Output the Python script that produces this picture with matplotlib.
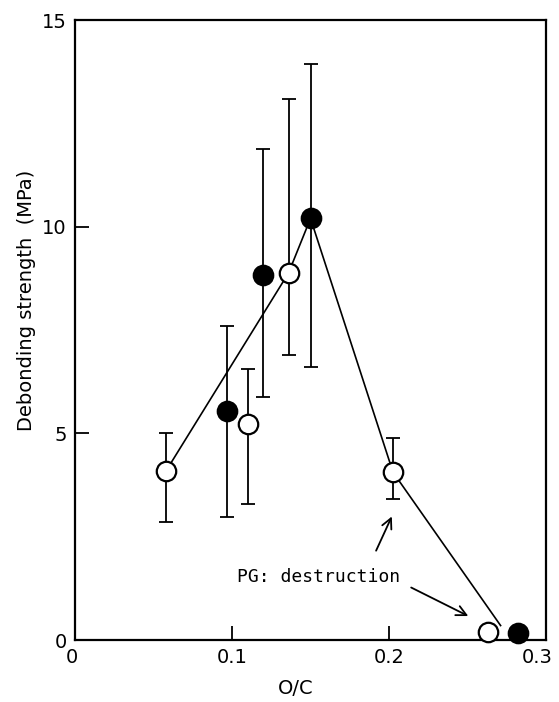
import matplotlib
matplotlib.use("Agg")
import matplotlib.pyplot as plt
from matplotlib.transforms import ScaledTranslation

# open circles
open_x = [0.058, 0.110, 0.136, 0.2025, 0.263]
open_y = [4.09, 5.23, 8.88, 4.06, 0.20]
open_err_lo = [2.85, 3.28, 6.90, 3.40, None]
open_err_hi = [5.00, 6.55, 13.10, 4.89, None]

# filled circles
filled_x = [0.097, 0.120, 0.150, 0.282]
filled_y = [5.55, 8.83, 10.20, 0.17]
filled_err_lo = [2.97, 5.89, 6.60, None]
filled_err_hi = [7.60, 11.87, 13.94, None]

# hand-drawn trend line
line_x = [0.058, 0.136, 0.150, 0.2025, 0.271]
line_y = [4.09, 8.88, 10.20, 4.06, 0.35]

xticks = [0, 0.1, 0.2, 0.3]
xticklabels = ["0", "0.1", "0.2", "0.3"]
yticks = [0, 5, 10, 15]
yticklabels = ["0", "5", "10", "15"]

fig = plt.figure(figsize=(5.59, 7.02), dpi=100)
ax = fig.add_axes([0.134, 0.0883, 0.843, 0.8832])

ax.plot(line_x, line_y, color="black", lw=1.2, zorder=2)

def draw_err(xs, ys, lo, hi):
    for x, y, l, h in zip(xs, ys, lo, hi):
        if l is None:
            continue
        ax.errorbar([x], [y], yerr=[[y - l], [h - y]], fmt="none", ecolor="black",
                    elinewidth=1.3, capsize=5, capthick=1.3, zorder=1)

draw_err(open_x, open_y, open_err_lo, open_err_hi)
draw_err(filled_x, filled_y, filled_err_lo, filled_err_hi)

ax.plot(open_x, open_y, "o", ms=14, mfc="white", mec="black", mew=1.6, ls="none", zorder=3, clip_on=False)
ax.plot(filled_x, filled_y, "o", ms=14, mfc="black", mec="black", mew=1.6, ls="none", zorder=3, clip_on=False)

ax.set_xlim(0, 0.3)
ax.set_ylim(0, 15)
ax.set_xticks(xticks)
ax.set_xticklabels(xticklabels)
ax.set_yticks(yticks)
ax.set_yticklabels(yticklabels)
ax.tick_params(direction="in", length=10, width=1.3, labelsize=14, pad=6,
               top=False, right=False)
for s in ax.spines.values():
    s.set_linewidth(1.6)

# shift the last x tick label left so it stays inside the figure
labs = ax.get_xticklabels()
labs[-1].set_transform(labs[-1].get_transform() + ScaledTranslation(-9/100, 0, fig.dpi_scale_trans))
labs[0].set_transform(labs[0].get_transform() + ScaledTranslation(-3/100, 0, fig.dpi_scale_trans))

ax.annotate("", xy=(0.2025, 3.05), xytext=(0.191, 2.1),
            arrowprops=dict(arrowstyle="->", color="black", lw=1.3, mutation_scale=18))
ax.annotate("", xy=(0.252, 0.55), xytext=(0.2125, 1.3),
            arrowprops=dict(arrowstyle="->", color="black", lw=1.3, mutation_scale=18))
ax.text(0.103, 1.53, "PG: destruction", fontsize=13, family="DejaVu Sans Mono",
        ha="left", va="center")

fig.text(296/559, 1 - 688/702, "O/C", fontsize=14, ha="center", va="center")
fig.text(27/559, 1 - 300/702, "Debonding strength  (MPa)", fontsize=14, rotation=90,
         ha="center", va="center")

fig.savefig("out.png", dpi=100)
